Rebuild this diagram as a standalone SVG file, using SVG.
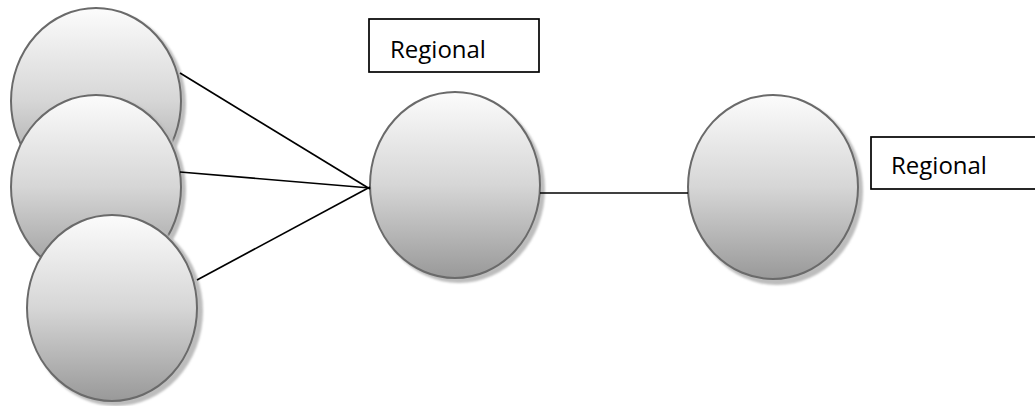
<svg xmlns="http://www.w3.org/2000/svg" width="1035" height="406" viewBox="0 0 1035 406">
<defs>
<linearGradient id="g" x1="0" y1="0" x2="0" y2="1">
<stop offset="0" stop-color="#fcfcfc"/>
<stop offset="0.5" stop-color="#d6d6d6"/>
<stop offset="1" stop-color="#999999"/>
</linearGradient>
<filter id="blur" x="-10%" y="-10%" width="120%" height="120%"><feGaussianBlur stdDeviation="1.2"/></filter>
</defs>
<style>
.c{fill:url(#g);stroke:#6a6a6a;stroke-width:2}
.s{fill:#bdbdbd;filter:url(#blur)}
.l{stroke:#000;stroke-width:1.7;fill:none}
.b{fill:#fff;stroke:#000;stroke-width:1.7}
.t{font-family:"Open Sans","Liberation Sans",Arial,sans-serif;font-size:24px;fill:#000}
</style>
<g id="n1"><ellipse class="s" cx="100" cy="104" rx="86" ry="94"/><ellipse class="c" cx="96" cy="101" rx="85" ry="93"/></g>
<g id="n2"><ellipse class="s" cx="100" cy="190" rx="86" ry="94"/><ellipse class="c" cx="96" cy="187" rx="85" ry="92"/></g>
<g id="n3"><ellipse class="s" cx="116" cy="311" rx="87" ry="95"/><ellipse class="c" cx="112" cy="308" rx="85" ry="93"/></g>
<g id="n4"><ellipse class="s" cx="459" cy="189" rx="86" ry="94"/><ellipse class="c" cx="455" cy="185" rx="85" ry="93"/></g>
<g id="n5"><ellipse class="s" cx="777" cy="191" rx="86" ry="94"/><ellipse class="c" cx="773" cy="187" rx="85" ry="92"/></g>
<g id="connectors">
<line class="l" x1="180" y1="73" x2="370" y2="189"/>
<line class="l" x1="180" y1="172" x2="370" y2="188"/>
<line class="l" x1="197" y1="280" x2="370" y2="187"/>
<line class="l" x1="540" y1="193" x2="688" y2="193"/>
</g>
<g id="label1"><rect class="b" x="369" y="19" width="170" height="53"/><text class="t" x="390" y="58">Regional</text></g>
<g id="label2"><rect class="b" x="871" y="137" width="170" height="52"/><text class="t" x="891" y="174">Regional</text></g>
</svg>
